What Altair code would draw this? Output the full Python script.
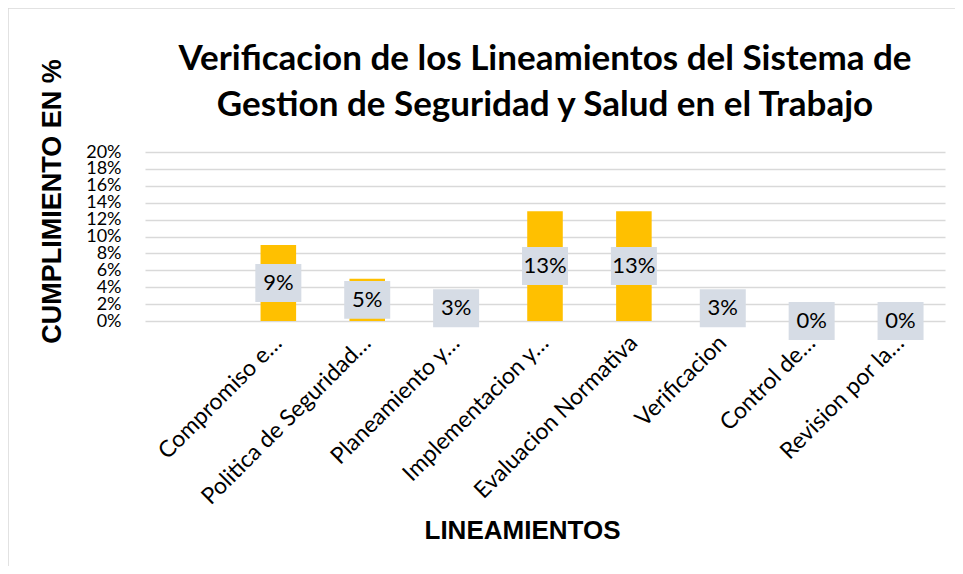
import altair as alt
import pandas as pd

categories = ["", "Compromiso e…", "Politica de Seguridad…", "Planeamiento y…",
              "Implementacion y…", "Evaluacion Normativa", "Verificacion",
              "Control de…", "Revision por la…"]
values = [None, 0.09, 0.05, 0.03, 0.13, 0.13, 0.03, 0.0, 0.0]
y_ticks = [0.0, 0.02, 0.04, 0.06, 0.08, 0.10, 0.12, 0.14, 0.16, 0.18, 0.20]
title_lines = ["Verificacion de los Lineamientos del Sistema de",
               "Gestion de Seguridad y Salud en el Trabajo"]

df = pd.DataFrame({"cat": categories, "v": values})

W, H = 800, 169
PAD_L, PAD_T = 137, 144

xscale = alt.Scale(domain=categories, paddingInner=0.6, paddingOuter=0.3)
yscale = alt.Scale(domain=[0, 0.2], nice=False, zero=True)

x_axis = alt.Axis(
    title="LINEAMIENTOS", labelAngle=-45, labelAlign="right", labelBaseline="middle",
    labelFontSize=23, labelFont="Lato", labelColor="#000000", labelPadding=18,
    labelLimit=400, ticks=False, domain=False,
    titleFont="Liberation Sans", titleFontSize=26, titleFontWeight="bold",
    titleColor="#000000", titleX=377, titleY=209, titleAlign="center",
    titleBaseline="middle",
)
y_axis = alt.Axis(
    title="CUMPLIMIENTO EN %", values=y_ticks, format=".0%", tickCount=11,
    labelFontSize=18, labelFont="Lato", labelColor="#000000", labelPadding=24,
    labelOverlap=False, labelFlush=False, labelBound=False,
    ticks=False, domain=False, grid=True, gridColor="#D9D9D9", gridWidth=1.5,
    titleFont="Liberation Sans", titleFontSize=27, titleFontWeight="bold",
    titleColor="#000000", titleAngle=270, titleX=-93, titleY=49,
    titleAlign="center", titleBaseline="middle",
)

X = alt.X("cat:N", scale=xscale, sort=categories, axis=x_axis)

base = alt.Chart(df)

bars = base.mark_bar(color="#FFC000").encode(
    x=X,
    y=alt.Y("v:Q", scale=yscale, axis=y_axis),
)

boxes = base.transform_filter("isValid(datum.v)").transform_calculate(
    mid="datum.v / 2"
).mark_point(
    shape="M-1,-0.826L1,-0.826L1,0.826L-1,0.826Z", size=2116, filled=True,
    color="#D6DCE5", opacity=1, strokeWidth=0,
).encode(
    x=X,
    y=alt.Y("mid:Q", scale=yscale, axis=y_axis),
)

labels = base.transform_filter("isValid(datum.v)").transform_calculate(
    mid="datum.v / 2"
).mark_text(fontSize=22, font="Lato", color="#000000").encode(
    x=X,
    y=alt.Y("mid:Q", scale=yscale, axis=y_axis),
    text=alt.Text("v:Q", format=".0%"),
)

frame = alt.Data(values=[{}])
top_line = alt.Chart(frame).mark_rule(color="#D9D9D9", strokeWidth=1.5).encode(
    x=alt.value(-PAD_L), x2=alt.value(W + 200), y=alt.value(-PAD_T),
)
left_line = alt.Chart(frame).mark_rule(color="#D9D9D9", strokeWidth=1.5).encode(
    x=alt.value(-PAD_L), y=alt.value(-PAD_T), y2=alt.value(H + 400),
)

chart = alt.layer(bars, boxes, labels, top_line, left_line).properties(
    width=W, height=H,
    title=alt.Title(title_lines, font="Lato", fontSize=35, fontWeight="bold",
                    color="#000000", lineHeight=46, anchor="middle", offset=-116),
    autosize=alt.AutoSizeParams(type="none"),
    padding={"left": PAD_L, "top": PAD_T, "right": 963 - 16 - PAD_L - W,
             "bottom": 574 - 16 - PAD_T - H},
).configure_view(stroke=None)

chart.save("out.html", embed_options={"renderer": "svg", "actions": False})
